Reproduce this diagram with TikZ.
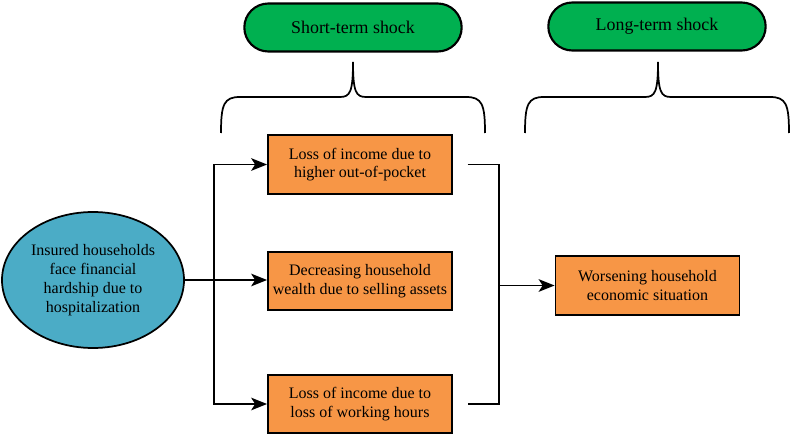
\documentclass[tikz,border=0pt]{standalone}
\usepackage{fontspec}
\setmainfont{Liberation Serif}
\usetikzlibrary{arrows.meta,calc,shapes.misc,shapes.geometric}
\definecolor{pillgreen}{RGB}{0,176,80}
\definecolor{boxorange}{RGB}{247,150,70}
\definecolor{ellblue}{RGB}{75,172,198}
\begin{document}
\begin{tikzpicture}[x=0.75pt,y=-0.75pt,
  pill/.style={draw=black,line width=1.6pt,fill=pillgreen,rounded rectangle,minimum width=163pt,minimum height=36pt,inner sep=0pt,font=\fontsize{13.4}{15}\selectfont},
  obox/.style={draw=black,line width=1.3pt,fill=boxorange,minimum width=138pt,minimum height=44pt,inner sep=0pt,align=center,font=\fontsize{12}{14}\selectfont},
  ell/.style={draw=black,line width=1.3pt,fill=ellblue,ellipse,minimum width=136.5pt,minimum height=102pt,inner sep=0pt,align=center,font=\fontsize{12}{14.3}\selectfont},
  conn/.style={line width=1.3pt,draw=black},
  arr/.style={conn,-{Stealth[length=12pt,width=9.5pt,inset=3pt]}},
  brace/.style={line width=1.3pt,draw=black}
]
\useasboundingbox (0,0) rectangle (790,435);
% pills
\node[pill] (st) at (353,27.5) {Short-term shock};
\node[pill] (lt) at (657,26.5) {Long-term shock};
% braces
\draw[brace] (221,133) .. controls (221,104) and (224,97) .. (240,97) -- (340,97) .. controls (350,97) and (353,92) .. (353,62)
  .. controls (353,92) and (356,97) .. (366,97) -- (466,97) .. controls (482,97) and (485,104) .. (485,133);
\draw[brace] (525,133) .. controls (525,104) and (528,97) .. (544,97) -- (645,97) .. controls (655,97) and (658,92) .. (658,62)
  .. controls (658,92) and (661,97) .. (671,97) -- (770,97) .. controls (786,97) and (789,104) .. (789,133);
% ellipse
\node[ell] (e) at (93,280) {Insured households\\face financial\\hardship due to\\hospitalization};
% boxes
\node[obox] (b1) at (360,164.5) {Loss of income due to\\higher out-of-pocket};
\node[obox] (b2) at (360,281) {Decreasing household\\wealth due to selling assets};
\node[obox] (b3) at (360,404) {Loss of income due to\\loss of working hours};
\node[obox] (b4) at (647.5,285.5) {Worsening household\\economic situation};
% connectors
\coordinate (j1) at (214,280);
\coordinate (j2) at (499,285.5);
\draw[arr] (e.east) -- (e.east -| b2.west);
\draw[arr] (j1) |- (b1.west);
\draw[arr] (j1) |- (b3.west);
\draw[conn] ([xshift=11pt]b1.east) -| (j2) |- ([xshift=11pt]b3.east);
\draw[arr] (j2) -- (b4.west);
\end{tikzpicture}
\end{document}
